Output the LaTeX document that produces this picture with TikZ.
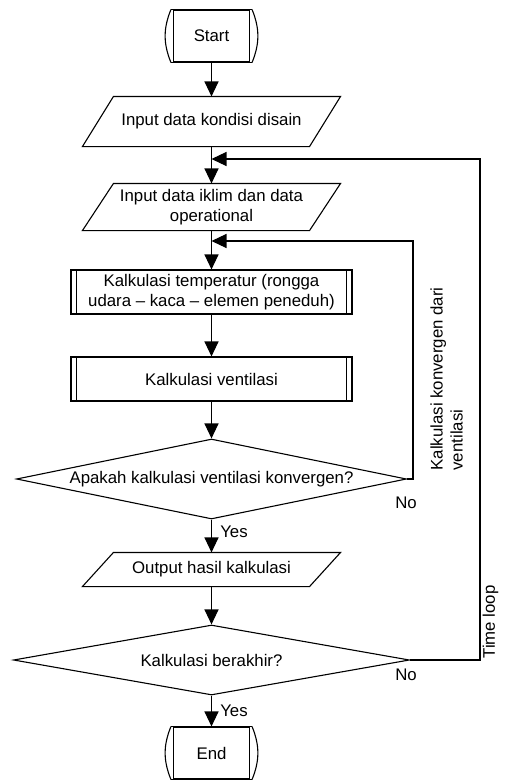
\documentclass[tikz,border=0pt]{standalone}
\usepackage{fontspec}
\setmainfont{Liberation Sans}
\usetikzlibrary{arrows.meta,shapes.geometric}
\newcommand\drawpara[1]{\draw (#1.north west) -- ([xshift=31pt]#1.north east) -- (#1.south east) -- ([xshift=-31pt]#1.south west) -- cycle;}
\newcommand\drawpredef[1]{\draw ([xshift=6pt]#1.north west) -- ([xshift=6pt]#1.south west); \draw ([xshift=-6pt]#1.north east) -- ([xshift=-6pt]#1.south east);}
\newcommand\drawterm[1]{\draw ([xshift=-2pt]#1.north west) -- ([xshift=2pt]#1.north east) ([xshift=-2pt]#1.south west) -- ([xshift=2pt]#1.south east); \draw ([xshift=-2pt]#1.north west) to[bend right=22] ([xshift=-2pt]#1.south west); \draw ([xshift=2pt]#1.north east) to[bend left=22] ([xshift=2pt]#1.south east);}
\tikzset{
  basefont/.style={font=\fontsize{16.8}{20}\selectfont, align=center, inner sep=0pt},
  iobox/.style={basefont, rectangle, minimum width=195pt},
  procbox/.style={basefont, draw, rectangle, minimum width=281pt, minimum height=44pt},
  termbox/.style={basefont, draw, rectangle, minimum width=76pt, minimum height=52pt},
  decbox/.style={basefont, draw, diamond},
  arr/.style={-{Triangle[length=15pt,width=14pt]}},
  lbl/.style={font=\fontsize{16.8}{20}\selectfont, inner sep=0pt}
}
\begin{document}
\begin{tikzpicture}[x=1pt, y=-1pt, line width=1.1pt]
\useasboundingbox (0,0) rectangle (504,780);
\node[termbox] (start) at (211.5,36) {Start};
\drawterm{start}
\node[iobox, minimum height=49pt] (in1) at (211.5,121.5) {Input data kondisi disain};
\drawpara{in1}
\node[iobox, minimum height=46pt] (in2) at (211.5,207) {Input data iklim dan data\\operational};
\drawpara{in2}
\node[procbox] (k1) at (211.5,292) {Kalkulasi temperatur (rongga\\udara – kaca – elemen peneduh)};
\drawpredef{k1}
\node[procbox] (k2) at (211.5,379) {Kalkulasi ventilasi};
\drawpredef{k2}
\node[decbox, aspect=4.875, minimum width=390pt, minimum height=80pt] (d1) at (211.5,479) {Apakah kalkulasi ventilasi konvergen?};
\node[iobox, minimum height=33pt] (out) at (211.5,569.5) {Output hasil kalkulasi};
\drawpara{out}
\node[decbox, aspect=5.66, minimum width=396pt, minimum height=70pt] (d2) at (211.5,660) {Kalkulasi berakhir?};
\node[termbox] (end) at (211.5,753) {End};
\drawterm{end}

\coordinate (j1) at (211.5,159);
\coordinate (j2) at (211.5,241);
\coordinate (r1) at (480,159);
\coordinate (r2) at (413,241);

\draw[arr] (start.south) -- (in1.north);
\draw[arr] (in1.south) -- (in2.north);
\draw[arr] (in2.south) -- (k1.north);
\draw[arr] (k1.south) -- (k2.north);
\draw[arr] (k2.south) -- (d1.north);
\draw[arr] (d1.south) -- (out.north);
\draw[arr] (out.south) -- (d2.north);
\draw[arr] (d2.south) -- (end.north);
\draw[arr] (d1.east) -| (r2) -- (j2);
\draw[arr] (d2.east) -| (r1) -- (j1);

\node[lbl] (no1) at (406,503) {No};
\node[lbl] (yes1) at (234,532) {Yes};
\node[lbl] (no2) at (406,675) {No};
\node[lbl] (yes2) at (234,711) {Yes};
\node[lbl, rotate=90] (tl) at (490.5,622) {Time loop};
\node[lbl, rotate=90, align=left, anchor=north west] (kk) at (430,471) {Kalkulasi konvergen dari\\ventilasi};
\end{tikzpicture}
\end{document}
